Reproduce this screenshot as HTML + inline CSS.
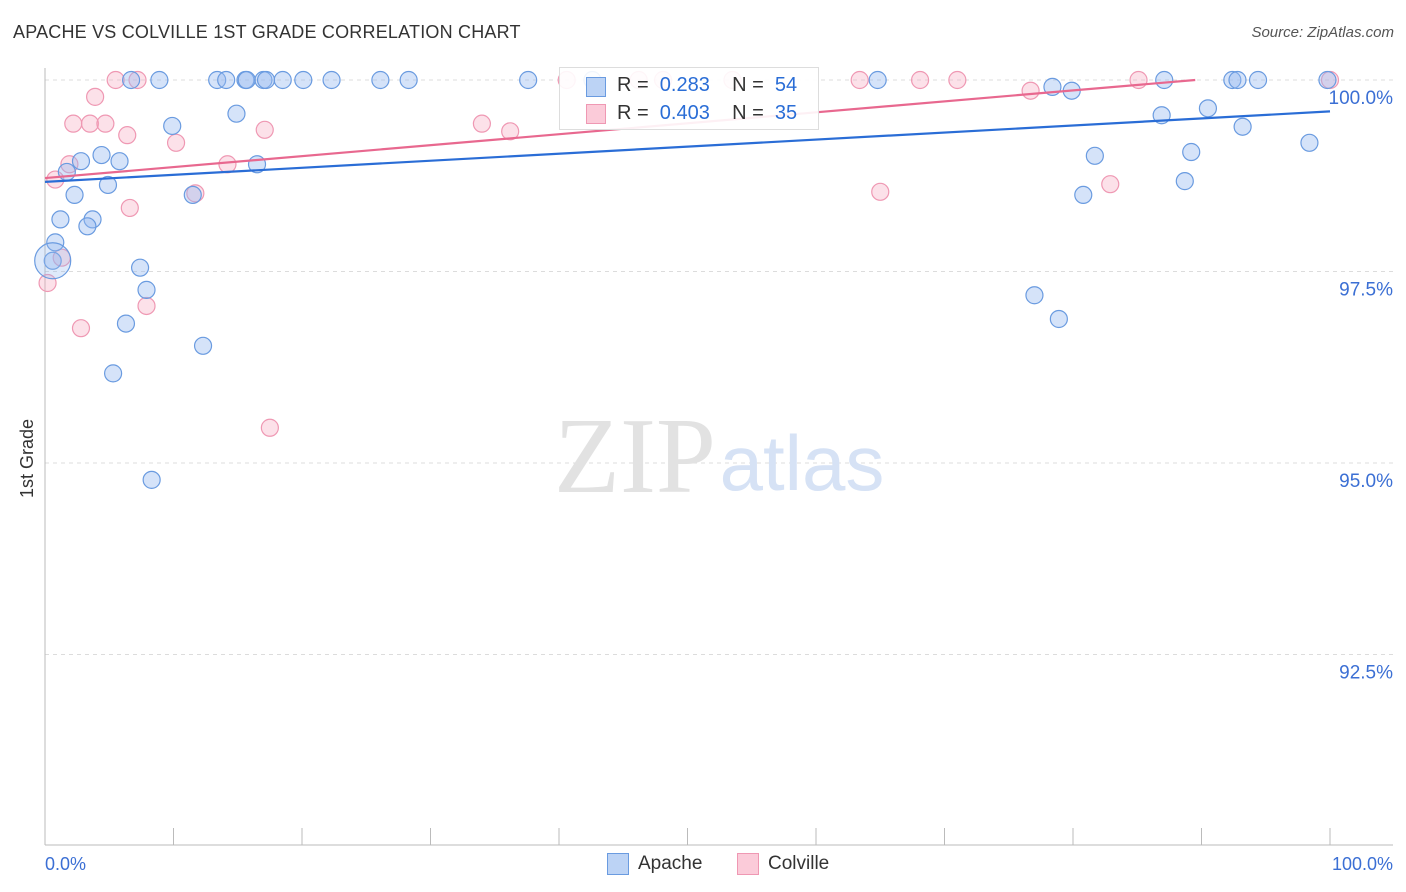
<!DOCTYPE html>
<html><head><meta charset="utf-8">
<style>
body{margin:0;background:#fff;font-family:"Liberation Sans",sans-serif;}
#wrap{position:relative;width:1406px;height:892px;overflow:hidden;}
.t{position:absolute;white-space:nowrap;}
</style></head>
<body>
<div id="wrap">
<div class="t" style="left:13px;top:22px;font-size:18px;color:#333;letter-spacing:0.2px">APACHE VS COLVILLE 1ST GRADE CORRELATION CHART</div>
<div class="t" style="right:12px;top:24px;font-size:15px;color:#555;font-style:italic">Source: ZipAtlas.com</div>
<svg id="svg" width="1406" height="892" style="position:absolute;left:0;top:0"></svg>
</div>
<script>
const apacheX=[6.7,8.9,13.4,14.1,15.6,15.7,17.0,17.2,18.5,20.1,22.3,26.1,28.3,37.6,42.6,64.8,78.4,79.9,87.1,92.4,92.8,94.4,99.8,
14.9,9.9,86.9,90.5,93.2,98.4,4.4,2.8,5.8,16.5,81.7,89.2,4.9,2.3,11.5,80.8,88.7,1.7,1.2,3.7,3.3,0.8,0.6,7.4,7.9,6.3,12.3,5.3,8.3,77.0,78.9];
const apacheY=[100,100,100,100,100,100,100,100,100,100,100,100,100,100,100,100,99.91,99.86,100,100,100,100,100,
99.56,99.40,99.54,99.63,99.39,99.18,99.02,98.94,98.94,98.90,99.01,99.06,98.63,98.50,98.50,98.50,98.68,98.80,98.18,98.18,98.09,97.88,97.64,97.55,97.26,96.82,96.53,96.17,94.78,97.19,96.88];
const colvX=[5.5,7.2,3.9,2.2,3.5,4.7,6.4,10.2,17.1,1.9,0.8,14.2,11.7,6.6,1.3,0.2,7.9,2.8,17.5,
34.0,36.2,40.6,46.2,48.1,53.5,63.4,68.1,71.0,76.7,85.1,82.9,65.0,100.0];
const colvY=[100,100,99.78,99.43,99.43,99.43,99.28,99.18,99.35,98.90,98.70,98.90,98.52,98.33,97.68,97.35,97.05,96.76,95.46,
99.43,99.33,100,100,100,100,100,100,100,99.86,100,98.64,98.54,100];
const yTicks=[100,97.5,95,92.5];
const yTickLabels=["100.0%","97.5%","95.0%","92.5%"];
const xTickLabels=["0.0%","100.0%"];
const trendBlue=[98.67,99.59];
const trendPink=[98.72,100.15];

const svg=document.getElementById('svg');
const NS='http://www.w3.org/2000/svg';
const X0=45,X1=1330,Y100=80,PXPER=76.6;
const sx=v=>X0+(X1-X0)*v/100;
const sy=v=>Y100+(100-v)*PXPER;
function mk(tag,attrs){const e=document.createElementNS(NS,tag);for(const k in attrs)e.setAttribute(k,attrs[k]);svg.appendChild(e);return e;}

yTicks.forEach((t,i)=>{
  const g=mk('line',{x1:45,x2:1393,y1:sy(t),y2:sy(t),stroke:'#dcdcdc','stroke-dasharray':'4,4','stroke-width':1});
  
  
  const tx=mk('text',{x:1393,y:sy(t)+24,'text-anchor':'end','font-size':19,fill:'#3b6fd4','font-family':'Liberation Sans, sans-serif'});
  tx.textContent=yTickLabels[i];
  
  
});
let ax=mk('line',{x1:45,x2:45,y1:68,y2:845,stroke:'#bbb'});


let bx=mk('line',{x1:45,x2:1393,y1:845,y2:845,stroke:'#bbb'});


for(let i=0;i<=10;i++){
  const tk=mk('line',{x1:sx(i*10),x2:sx(i*10),y1:828,y2:845,stroke:'#bbb'});
  
  
}
[[0,'start'],[100,'end']].forEach((p,i)=>{
  const tx=mk('text',{x:sx(p[0])+(i?63:0),y:870,'text-anchor':p[1],'font-size':18,fill:'#3b6fd4','font-family':'Liberation Sans, sans-serif'});
  tx.textContent=xTickLabels[i];
  
  
});
let w1=mk('text',{x:635,y:492,'text-anchor':'middle','font-size':108,fill:'#e2e2e2','font-family':'Liberation Serif, serif'});
w1.textContent='ZIP';


let w2=mk('text',{x:802,y:490,'text-anchor':'middle','font-size':78,fill:'#d6e2f5','font-family':'Liberation Sans, sans-serif'});
w2.textContent='atlas';



colvX.forEach((x,i)=>{
  const c=mk('circle',{cx:sx(x),cy:sy(colvY[i]),r:8.5,fill:'rgba(247,168,192,0.35)',stroke:'#ef98b3','stroke-width':1.2});
  
  
});
apacheX.forEach((x,i)=>{
  const c=mk('circle',{cx:sx(x),cy:sy(apacheY[i]),r:8.5,fill:'rgba(150,185,240,0.4)',stroke:'#6a9be0','stroke-width':1.2});
  
  
});
let big=mk('circle',{cx:sx(0.6),cy:sy(97.64),r:18,fill:'rgba(150,185,240,0.3)',stroke:'#6a9be0','stroke-width':1.2});



let tb=mk('line',{x1:sx(0),y1:sy(trendBlue[0]),x2:sx(100),y2:sy(trendBlue[1]),stroke:'#2a6dd6','stroke-width':2.2});


const pend=Math.min(100,(100-trendPink[0])/(trendPink[1]-trendPink[0])*100);
let tp=mk('line',{x1:sx(0),y1:sy(trendPink[0]),x2:sx(pend),y2:sy(trendPink[0]+(trendPink[1]-trendPink[0])*pend/100),stroke:'#e8688f','stroke-width':2.2});


</script>
<div class="t" style="transform:rotate(-90deg);transform-origin:0 0;font-size:18px;color:#333;top:498px;left:17px">1st Grade</div>
<div class="t" style="left:559px;top:67px;width:258px;height:61px;border:1px solid #ddd;background:rgba(255,255,255,0.9)">
 <div class="t" style="left:26px;top:9px;width:18px;height:18px;background:#bcd3f5;border:1px solid #6a9be0"></div>
 <div class="t" style="left:57px;top:6px;font-size:20px;color:#333">R = <span style="color:#2a6dd6">&nbsp;0.283</span>&nbsp;&nbsp;&nbsp; N = <span style="color:#2a6dd6">&nbsp;54</span></div>
 <div class="t" style="left:26px;top:36px;width:18px;height:18px;background:#fbcbd9;border:1px solid #ef98b3"></div>
 <div class="t" style="left:57px;top:34px;font-size:20px;color:#333">R = <span style="color:#2a6dd6">&nbsp;0.403</span>&nbsp;&nbsp;&nbsp; N = <span style="color:#2a6dd6">&nbsp;35</span></div>
</div>
<div class="t" style="left:607px;top:853px;width:20px;height:20px;background:#bcd3f5;border:1px solid #6a9be0"></div>
<div class="t" style="left:638px;top:853px;font-size:19px;color:#333">Apache</div>
<div class="t" style="left:737px;top:853px;width:20px;height:20px;background:#fbcbd9;border:1px solid #ef98b3"></div>
<div class="t" style="left:768px;top:853px;font-size:19px;color:#333">Colville</div>
</body></html>
